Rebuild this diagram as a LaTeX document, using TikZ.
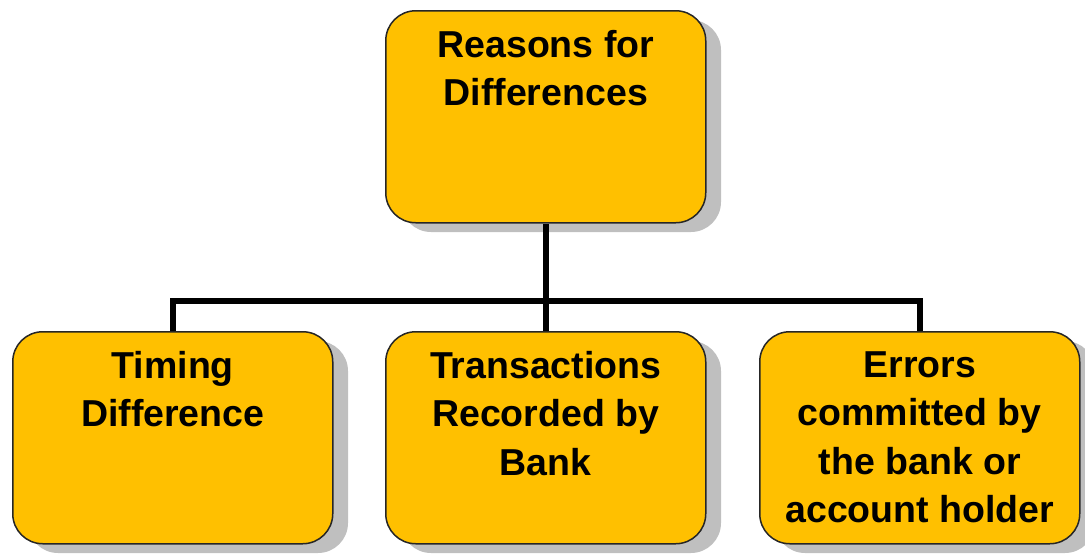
\documentclass[tikz,border=0pt]{standalone}
\usepackage{fontspec}
\setmainfont{Liberation Sans}
\begin{document}
\begin{tikzpicture}[x=1pt,y=-1pt,
  reason/.style={draw=black!85, line width=1.5pt, fill=boxgold, rounded corners=30pt,
    minimum width=320pt, minimum height=212pt, inner sep=0pt, anchor=north west},
  label/.style={anchor=north, align=center, inner sep=0pt, text=black,
    font=\fontsize{37.5}{48.5}\selectfont\bfseries},
  shade/.style={fill=shadegray, rounded corners=30pt},
  link/.style={line width=6pt, black}]
\definecolor{boxgold}{HTML}{FFC000}
\definecolor{shadegray}{HTML}{BFBFBF}
\useasboundingbox (0,0) rectangle (1085,557);
% drop shadows
\foreach \x/\y in {385/10, 12/331, 385/331, 759/331}
  \fill[shade] (\x+16,\y+10) rectangle ++(320,212);
% boxes
\node[reason] (top) at (385,10) {};
\node[reason] (left) at (12,331) {};
\node[reason] (mid) at (385,331) {};
\node[reason] (right) at (759,331) {};
% labels, set from the top edge of each box
\node[label] (ttop) at ([yshift=-20pt]top.north) {Reasons for\\Differences};
\node[label] (tleft) at ([yshift=-20pt]left.north) {Timing\\Difference};
\node[label] (tmid) at ([yshift=-20pt]mid.north) {Transactions\\Recorded by\\Bank};
\node[label] (tright) at ([yshift=-20pt]right.north) {Errors\\committed by\\the bank or\\account holder};
% connectors
\coordinate (bus) at (0,301);
\draw[link] (top.south) -- (top.south |- bus);
\draw[link, line cap=rect] (left.north |- bus) -- (right.north |- bus);
\draw[link] (left.north |- bus) -- (left.north);
\draw[link] (mid.north |- bus) -- (mid.north);
\draw[link] (right.north |- bus) -- (right.north);
\end{tikzpicture}
\end{document}
